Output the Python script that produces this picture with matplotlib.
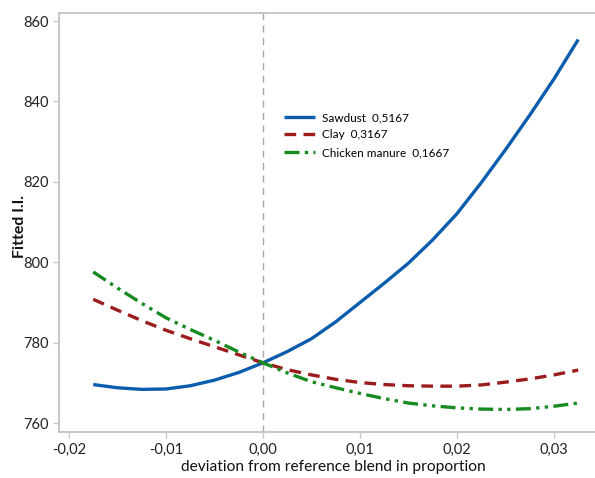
import matplotlib
matplotlib.use("Agg")
import matplotlib.pyplot as plt
from matplotlib.ticker import FuncFormatter

plt.rcParams['font.family'] = ['Lato', 'DejaVu Sans']

x = [-0.0175, -0.015, -0.0125, -0.01, -0.0075, -0.005, -0.0025, 0.0, 0.0025, 0.005,
     0.0075, 0.01, 0.0125, 0.015, 0.0175, 0.02, 0.0225, 0.025, 0.0275, 0.03, 0.0325]
sawdust = [769.6, 768.8, 768.4, 768.5, 769.3, 770.7, 772.6, 775.0, 777.8, 781.0,
           785.2, 790.0, 794.8, 799.8, 805.6, 812.1, 819.8, 828.0, 836.6, 845.6, 855.4]
clay = [790.8, 788.1, 785.5, 783.1, 781.0, 779.0, 777.0, 775.0, 773.3, 772.0,
        770.9, 770.1, 769.6, 769.3, 769.2, 769.2, 769.5, 770.2, 771.0, 772.0, 773.2]
chicken = [797.6, 793.6, 789.8, 786.2, 783.3, 780.6, 777.7, 775.0, 772.5, 770.3,
           768.8, 767.4, 766.1, 765.0, 764.3, 763.8, 763.5, 763.4, 763.6, 764.2, 765.0]
labels = ['Sawdust  0,5167', 'Clay  0,3167', 'Chicken manure  0,1667']
xticks = [-0.02, -0.01, 0.0, 0.01, 0.02, 0.03]
yticks = [760, 780, 800, 820, 840, 860]

fig = plt.figure(figsize=(5.95, 4.78), dpi=100)
ax = fig.add_axes([59/595, (478-432)/478, 1 - 59/595, (432-13)/478])

ax.axvline(0, color='#a8a8a8', lw=1.0, ls=(0, (5, 4)), zorder=1)
ax.plot(x, sawdust, color='#0b5cad', lw=2.4, solid_capstyle='butt', label=labels[0], zorder=3)
ax.plot(x, clay, color='#9b1c1c', lw=2.4, dashes=(3.5, 2.2), label=labels[1], zorder=3)
ax.plot(x, chicken, color='#178a22', lw=2.4, dashes=(4.5, 1.6, 1.0, 1.6, 1.0, 1.6), label=labels[2], zorder=3)

ax.set_xlim(-0.02103, 0.03423)
ax.set_ylim(757.8, 862.0)
ax.set_xticks(xticks)
ax.set_yticks(yticks)
ax.xaxis.set_major_formatter(FuncFormatter(lambda v, p: f"{v:.2f}".replace('.', ',').replace('-0,00', '0,00')))
ax.yaxis.set_major_formatter(FuncFormatter(lambda v, p: f"{v:.0f}"))

for s in ['left', 'bottom', 'top']:
    ax.spines[s].set_color('#c8c8c8')
    ax.spines[s].set_linewidth(1.5)
ax.spines['right'].set_visible(False)
ax.tick_params(axis='both', colors='#c8c8c8', labelcolor='#222222', labelsize=10.5, length=4, width=1)

ax.set_ylabel('Fitted I.I.', fontsize=11.5, fontweight='bold', color='#111111')
ax.set_xlabel('deviation from reference blend in proportion', fontsize=11.2, color='#111111')
ax.xaxis.set_label_coords((333 - 59) / 536, -(460 - 432) / 419)
ax.yaxis.set_label_coords(-(59 - 27) / 536, (432 - 227) / 419)

leg = ax.legend(loc='upper left', bbox_to_anchor=((284 - 59) / 536, (432 - 112) / 419),
                frameon=False, fontsize=8.5, borderaxespad=0, borderpad=0,
                handlelength=2.6, handletextpad=0.6, labelspacing=0.55)

fig.savefig('out.png', dpi=100)
